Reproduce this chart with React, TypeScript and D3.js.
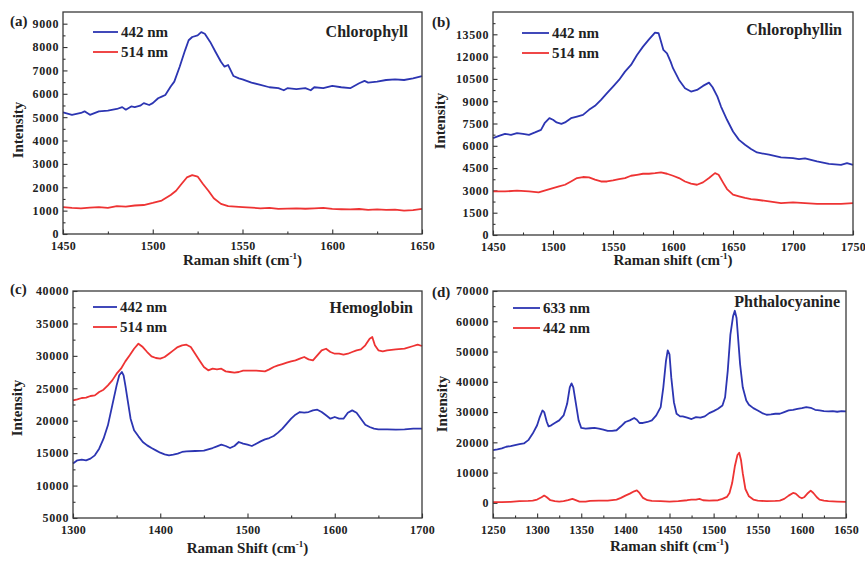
import React, { useEffect, useRef } from "react";
import * as d3 from "d3";

const BLUE = "#2c35b2";
const RED = "#ee3333";
const INK = "#222";
const FONT = "'Liberation Serif', 'Times New Roman', serif";

// (a) Chlorophyll
const aBlueX = [1450, 1455, 1460, 1462, 1465, 1470, 1475, 1480, 1483, 1485, 1488, 1490, 1493, 1495, 1498, 1500, 1503, 1505, 1507, 1510, 1512, 1515, 1518, 1520, 1522, 1525, 1527, 1529, 1532, 1535, 1538, 1540, 1542, 1545, 1548, 1550, 1555, 1560, 1565, 1570, 1573, 1575, 1580, 1585, 1588, 1590, 1595, 1600, 1605, 1610, 1615, 1618, 1620, 1625, 1630, 1635, 1640, 1645, 1650];
const aBlueY = [5200, 5100, 5180, 5250, 5100, 5250, 5280, 5350, 5430, 5320, 5460, 5430, 5490, 5600, 5520, 5600, 5810, 5880, 5950, 6310, 6520, 7160, 7860, 8290, 8430, 8500, 8640, 8570, 8220, 7790, 7370, 7160, 7230, 6760, 6660, 6620, 6480, 6380, 6280, 6240, 6150, 6240, 6200, 6240, 6150, 6280, 6240, 6340, 6280, 6240, 6450, 6550, 6480, 6520, 6590, 6620, 6590, 6660, 6760];
const aRedX = [1450, 1455, 1460, 1465, 1470, 1475, 1480, 1485, 1490, 1495, 1500, 1505, 1510, 1513, 1516, 1519, 1522, 1525, 1528, 1531, 1534, 1538, 1542, 1546, 1550, 1555, 1560, 1565, 1570, 1575, 1580, 1585, 1590, 1595, 1600, 1605, 1610, 1615, 1620, 1625, 1630, 1635, 1640, 1645, 1650];
const aRedY = [1150, 1120, 1100, 1130, 1150, 1120, 1190, 1170, 1220, 1240, 1330, 1430, 1670, 1850, 2140, 2420, 2520, 2460, 2140, 1850, 1530, 1290, 1190, 1170, 1150, 1130, 1100, 1120, 1075, 1090, 1100, 1080, 1100, 1120, 1075, 1060, 1050, 1070, 1030, 1050, 1030, 1040, 1000, 1020, 1075];

// (b) Chlorophyllin
const bBlueX = [1450, 1455, 1460, 1465, 1470, 1475, 1480, 1485, 1490, 1493, 1497, 1500, 1503, 1507, 1510, 1515, 1520, 1525, 1530, 1535, 1540, 1545, 1550, 1555, 1560, 1565, 1570, 1575, 1580, 1585, 1588, 1590, 1592, 1595, 1598, 1600, 1605, 1610, 1615, 1620, 1625, 1630, 1633, 1637, 1640, 1645, 1650, 1655, 1660, 1665, 1670, 1680, 1690, 1700, 1705, 1710, 1720, 1730, 1740, 1745, 1750];
const bBlueY = [6515, 6670, 6800, 6740, 6850, 6800, 6740, 6900, 7075, 7520, 7860, 7750, 7570, 7480, 7570, 7860, 7970, 8080, 8420, 8690, 9090, 9540, 9985, 10430, 10990, 11440, 12110, 12670, 13160, 13610, 13570, 13010, 12450, 12220, 11660, 11220, 10430, 9870, 9650, 9760, 10030, 10250, 9940, 9310, 8640, 7750, 6960, 6400, 6070, 5780, 5550, 5400, 5220, 5170, 5100, 5150, 4950, 4790, 4720, 4830, 4720];
const bRedX = [1450, 1460, 1470, 1480, 1488, 1495, 1500, 1505, 1510, 1515, 1520, 1525, 1530, 1535, 1540, 1545, 1550, 1555, 1560, 1565, 1570, 1575, 1580, 1585, 1590, 1595, 1600, 1605, 1610, 1615, 1620, 1625, 1630, 1635, 1638, 1642, 1645, 1650, 1655, 1660, 1665, 1670, 1680, 1690, 1700, 1710, 1720, 1730, 1740, 1750];
const bRedY = [2930, 2930, 2980, 2930, 2870, 3040, 3160, 3270, 3380, 3600, 3830, 3900, 3870, 3720, 3600, 3600, 3670, 3760, 3830, 3985, 4050, 4120, 4120, 4160, 4210, 4120, 3985, 3830, 3600, 3450, 3380, 3540, 3830, 4160, 4050, 3490, 3090, 2710, 2600, 2490, 2420, 2370, 2260, 2150, 2190, 2150, 2100, 2100, 2100, 2150];

// (c) Hemoglobin
const cBlueX = [1300, 1305, 1310, 1315, 1320, 1325, 1330, 1335, 1340, 1345, 1350, 1353, 1356, 1358, 1360, 1363, 1366, 1370, 1375, 1380, 1385, 1390, 1395, 1400, 1405, 1410, 1415, 1420, 1425, 1430, 1440, 1450, 1455, 1460, 1465, 1470, 1475, 1480, 1485, 1490, 1495, 1500, 1505, 1510, 1515, 1520, 1525, 1530, 1535, 1540, 1545, 1550, 1555, 1560, 1565, 1570, 1575, 1580, 1585, 1590, 1595, 1600, 1605, 1610, 1615, 1620, 1625, 1630, 1635, 1640, 1645, 1650, 1660, 1670, 1680, 1690, 1700];
const cBlueY = [13400, 13890, 13990, 13890, 14150, 14660, 15690, 17230, 19290, 22370, 25450, 27000, 27510, 27000, 25450, 22880, 20310, 18520, 17590, 16720, 16200, 15790, 15430, 15070, 14820, 14660, 14760, 14920, 15180, 15280, 15330, 15380, 15590, 15790, 16050, 16300, 16100, 15790, 16100, 16720, 16460, 16300, 16100, 16460, 16820, 17130, 17330, 17640, 18160, 18770, 19540, 20310, 20930, 21340, 21240, 21340, 21600, 21700, 21340, 20830, 20310, 20570, 20310, 20310, 21240, 21600, 21240, 20310, 19390, 19030, 18770, 18670, 18670, 18620, 18670, 18770, 18770];
const cRedX = [1300, 1305, 1310, 1315, 1320, 1325, 1330, 1335, 1340, 1345, 1350, 1355, 1360, 1365, 1370, 1375, 1380, 1385, 1390, 1395, 1400, 1405, 1410, 1415, 1420, 1425, 1430, 1435, 1440, 1445, 1450, 1455, 1460, 1465, 1470, 1475, 1480, 1485, 1490, 1495, 1500, 1510, 1520, 1525, 1530, 1535, 1540, 1545, 1550, 1555, 1560, 1565, 1570, 1575, 1580, 1585, 1590, 1595, 1600, 1605, 1610, 1615, 1620, 1625, 1630, 1635, 1640, 1643, 1646, 1650, 1655, 1660, 1670, 1680, 1690, 1695, 1700];
const cRedY = [23140, 23290, 23500, 23550, 23810, 23910, 24430, 24780, 25450, 26220, 27250, 28020, 29150, 30080, 31100, 31880, 31360, 30590, 29920, 29670, 29560, 29820, 30330, 30850, 31360, 31620, 31720, 31360, 30330, 29300, 28280, 27770, 28020, 27920, 28020, 27610, 27510, 27400, 27510, 27710, 27710, 27710, 27610, 27920, 28280, 28540, 28740, 28950, 29150, 29300, 29560, 29820, 29460, 29300, 30080, 30850, 31100, 30590, 30330, 30330, 30180, 30330, 30590, 30850, 31000, 31620, 32650, 32900, 31620, 30850, 30690, 30850, 31000, 31100, 31520, 31720, 31520];

// (d) Phthalocyanine
const dBlueX = [1250, 1255, 1260, 1265, 1270, 1275, 1280, 1285, 1290, 1295, 1300, 1303, 1306, 1308, 1311, 1313, 1316, 1320, 1325, 1330, 1334, 1337, 1339, 1341, 1344, 1347, 1350, 1355, 1360, 1365, 1370, 1375, 1380, 1385, 1390, 1395, 1400, 1405, 1410, 1413, 1416, 1420, 1425, 1430, 1435, 1440, 1443, 1446, 1448, 1450, 1452, 1455, 1458, 1462, 1465, 1470, 1475, 1480, 1485, 1490, 1495, 1500, 1505, 1510, 1513, 1516, 1519, 1522, 1524, 1526, 1528, 1530, 1533, 1537, 1540, 1545, 1550, 1555, 1560, 1565, 1570, 1575, 1580, 1585, 1590, 1595, 1600, 1605, 1610, 1615, 1620, 1625, 1630, 1635, 1640, 1645, 1650];
const dBlueY = [17450, 17670, 17990, 18540, 18760, 19080, 19410, 19630, 20720, 22900, 25630, 28350, 30530, 29990, 26720, 25300, 25630, 26390, 27260, 28900, 32720, 38170, 39480, 38170, 32720, 27260, 24750, 24540, 24650, 24750, 24540, 24210, 23770, 23770, 23990, 25300, 26720, 27260, 28030, 27480, 26390, 26390, 26720, 27260, 28900, 31620, 38170, 46890, 50380, 49070, 41440, 33260, 29440, 28570, 28570, 28140, 27700, 28350, 28140, 28570, 29660, 30320, 31080, 32170, 34900, 43620, 55620, 61610, 63470, 61070, 53440, 45800, 38170, 33810, 32390, 31300, 30530, 29660, 29120, 29230, 29440, 29440, 29990, 30530, 30750, 31080, 31300, 31620, 31410, 30750, 30530, 30320, 30210, 30320, 30100, 30320, 30210];
const dRedX = [1250, 1260, 1270, 1280, 1290, 1295, 1300, 1305, 1308, 1311, 1315, 1320, 1325, 1330, 1335, 1340, 1343, 1348, 1355, 1360, 1370, 1380, 1390, 1395, 1400, 1405, 1410, 1413, 1416, 1420, 1425, 1430, 1440, 1450, 1460, 1470, 1475, 1480, 1484, 1488, 1495, 1505, 1510, 1515, 1518, 1521, 1524, 1527, 1529, 1531, 1533, 1536, 1540, 1545, 1550, 1560, 1570, 1575, 1580, 1585, 1590, 1593, 1597, 1600, 1603, 1607, 1610, 1613, 1617, 1620, 1625, 1630, 1640, 1650];
const dRedY = [220, 220, 330, 550, 650, 760, 1090, 1850, 2400, 1850, 870, 550, 440, 550, 870, 1310, 980, 440, 440, 650, 760, 760, 1090, 1640, 2400, 3050, 3820, 4140, 3270, 1640, 870, 650, 550, 440, 550, 870, 1090, 1090, 1310, 870, 760, 870, 1310, 1960, 3270, 6540, 12000, 15810, 16580, 14180, 9810, 4580, 2180, 1090, 760, 550, 650, 760, 1310, 2400, 3270, 3050, 1960, 1530, 1960, 3270, 4030, 3270, 1850, 1090, 760, 550, 440, 330];

const panels = [
  {
    tag: "(a)", title: "Chlorophyll", box: [63, 12, 422, 234],
    xDomain: [1450, 1650], yDomain: [0, 9500],
    xTicks: d3.range(1450, 1651, 50), xMinor: d3.range(1475, 1650, 50),
    yTicks: d3.range(0, 9001, 1000), yMinor: d3.range(500, 9500, 1000),
    xTitle: "Raman shift", xTitleY: 265, yTitleX: 23, yTitleY: 130,
    tagPos: [10, 26], titlePos: [408, 37], legend: [93, 118, 32],
    series: [
      { name: "442 nm", color: BLUE, x: aBlueX, y: aBlueY },
      { name: "514 nm", color: RED, x: aRedX, y: aRedY },
    ],
  },
  {
    tag: "(b)", title: "Chlorophyllin", box: [493, 12, 853, 235],
    xDomain: [1450, 1750], yDomain: [0, 15000],
    xTicks: d3.range(1450, 1751, 50), xMinor: d3.range(1475, 1750, 50),
    yTicks: d3.range(0, 13501, 1500), yMinor: d3.range(750, 15000, 1500),
    xTitle: "Raman shift", xTitleY: 265, yTitleX: 445, yTitleY: 121,
    tagPos: [432, 27], titlePos: [842, 35], legend: [522, 549, 33],
    series: [
      { name: "442 nm", color: BLUE, x: bBlueX, y: bBlueY },
      { name: "514 nm", color: RED, x: bRedX, y: bRedY },
    ],
  },
  {
    tag: "(c)", title: "Hemoglobin", box: [73, 291, 422, 518],
    xDomain: [1300, 1700], yDomain: [5000, 40000],
    xTicks: d3.range(1300, 1701, 100), xMinor: d3.range(1350, 1700, 100),
    yTicks: d3.range(5000, 40001, 5000), yMinor: d3.range(7500, 40000, 5000),
    xTitle: "Raman Shift", xTitleY: 553, yTitleX: 22, yTitleY: 408,
    tagPos: [10, 294], titlePos: [413, 313], legend: [93, 117, 307],
    series: [
      { name: "442 nm", color: BLUE, x: cBlueX, y: cBlueY },
      { name: "514 nm", color: RED, x: cRedX, y: cRedY },
    ],
  },
  {
    tag: "(d)", title: "Phthalocyanine", box: [493, 291, 846, 518],
    xDomain: [1250, 1650], yDomain: [-5000, 70000],
    xTicks: d3.range(1250, 1651, 50), xMinor: d3.range(1275, 1650, 50),
    yTicks: d3.range(0, 70001, 10000), yMinor: d3.range(5000, 70000, 10000),
    xTitle: "Raman shift", xTitleY: 551, yTitleX: 447, yTitleY: 404,
    tagPos: [432, 297], titlePos: [840, 307], legend: [513, 540, 308],
    series: [
      { name: "633 nm", color: BLUE, x: dBlueX, y: dBlueY },
      { name: "442 nm", color: RED, x: dRedX, y: dRedY },
    ],
  },
];

function Panel({ p }: { p: any }) {
  const ref = useRef<SVGGElement>(null);

  useEffect(() => {
    const g = d3.select(ref.current);
    g.selectAll("*").remove();
    const [l, t, r, b] = p.box;
    const x = d3.scaleLinear().domain(p.xDomain).range([l, r]);
    const y = d3.scaleLinear().domain(p.yDomain).range([b, t]);

    const style = (spacing: number) => (s: any) => {
      s.select(".domain").remove();
      s.selectAll("line").attr("stroke", "#333").attr("stroke-width", 1.1);
      s.attr("font-family", FONT).attr("font-size", 12).attr("font-weight", "bold");
      s.selectAll("text").attr("fill", INK).attr("letter-spacing", spacing);
    };

    // minor ticks, pointing inside
    g.append("g").attr("transform", `translate(0,${b})`)
      .call(d3.axisBottom(x).tickValues(p.xMinor).tickSize(-2.5).tickFormat(() => ""))
      .call(style(0));
    g.append("g").attr("transform", `translate(${l},0)`)
      .call(d3.axisLeft(y).tickValues(p.yMinor).tickSize(-2.5).tickFormat(() => ""))
      .call(style(0));
    // major ticks
    g.append("g").attr("transform", `translate(0,${b})`)
      .call(d3.axisBottom(x).tickValues(p.xTicks).tickSize(-4.5).tickPadding(7.5).tickFormat(d3.format("d")))
      .call(style(0.2));
    g.append("g").attr("transform", `translate(${l},0)`)
      .call(d3.axisLeft(y).tickValues(p.yTicks).tickSize(-4.5).tickPadding(4).tickFormat(d3.format("d")))
      .call(style(0.6));

    p.series.forEach((s: any) => {
      const path = d3.line<number>()
        .x((d) => x(d))
        .y((d, i) => y(s.y[i]));
      g.append("path")
        .attr("d", path(s.x))
        .attr("fill", "none")
        .attr("stroke", s.color)
        .attr("stroke-width", 1.8)
        .attr("stroke-linejoin", "round");
    });

    // frame
    g.append("rect")
      .attr("x", l).attr("y", t).attr("width", r - l).attr("height", b - t)
      .attr("fill", "none").attr("stroke", "#3a3a3a").attr("stroke-width", 1.3);

    // legend
    const [lx1, lx2, ly] = p.legend;
    p.series.forEach((s: any, i: number) => {
      const yy = ly + i * 20;
      g.append("line").attr("x1", lx1).attr("x2", lx2).attr("y1", yy).attr("y2", yy)
        .attr("stroke", s.color).attr("stroke-width", 1.8);
      g.append("text").attr("x", lx2 + 3).attr("y", yy + 5)
        .attr("font-family", FONT).attr("font-size", 15).attr("font-weight", "bold")
        .attr("fill", INK).text(s.name);
    });
  }, [p]);

  const [l, t, r, b] = p.box;
  const text = { fontFamily: FONT, fontWeight: "bold", fill: INK } as const;
  return (
    <g>
      <g ref={ref} />
      <text x={p.tagPos[0]} y={p.tagPos[1]} fontSize={15} style={text}>{p.tag}</text>
      <text x={p.titlePos[0]} y={p.titlePos[1]} fontSize={16} textAnchor="end" style={text}>{p.title}</text>
      <text x={(l + r) / 2} y={p.xTitleY} fontSize={15} textAnchor="middle" style={text}>
        {p.xTitle} (cm<tspan dy={-6} fontSize={9}>-1</tspan><tspan dy={6}>)</tspan>
      </text>
      <text transform={`translate(${p.yTitleX},${p.yTitleY}) rotate(-90)`} fontSize={15} textAnchor="middle" style={text}>
        Intensity
      </text>
    </g>
  );
}

export default function App() {
  return (
    <svg width={865} height={563} style={{ position: "absolute", left: 0, top: 0, background: "#fff" }}>
      {panels.map((p) => (
        <Panel key={p.tag} p={p} />
      ))}
    </svg>
  );
}
